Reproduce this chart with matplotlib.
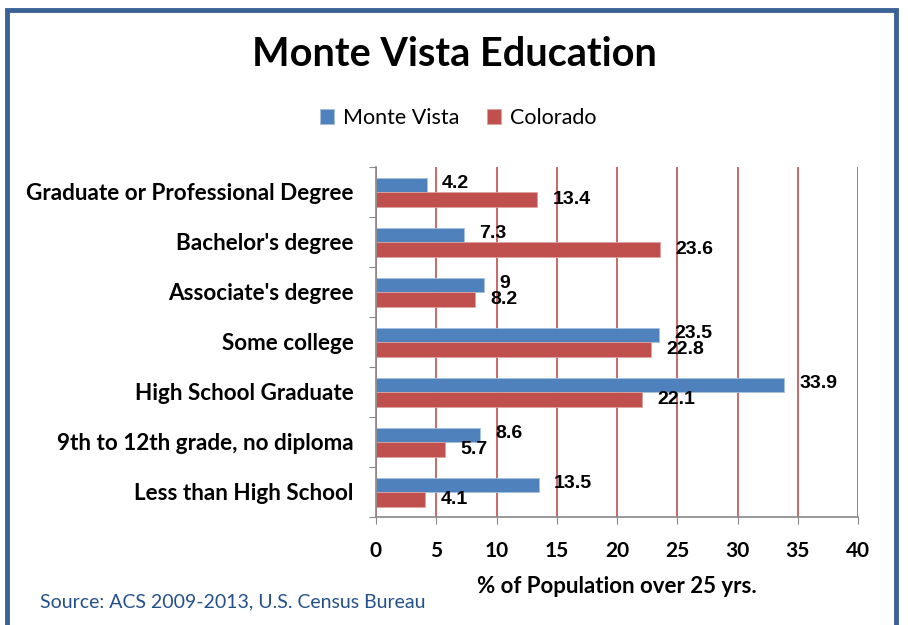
import matplotlib.pyplot as plt
import numpy as np
from matplotlib.patches import Rectangle

categories = [
    "Less than High School",
    "9th to 12th grade, no diploma",
    "High School Graduate",
    "Some college",
    "Associate's degree",
    "Bachelor's degree",
    "Graduate or Professional Degree",
]
monte_vista = [13.5, 8.6, 33.9, 23.5, 9, 7.3, 4.2]
colorado = [4.1, 5.7, 22.1, 22.8, 8.2, 23.6, 13.4]
x_ticks = [0, 5, 10, 15, 20, 25, 30, 35, 40]

BLUE = "#4F81BD"
RED = "#C0504D"
FRAME = "#3B6297"
CAT_FONT = "Lato"

fig = plt.figure(figsize=(9.08, 6.25), dpi=100)
ax = fig.add_axes([376 / 908, 1 - 517 / 625, 482 / 908, 350 / 625])

y = np.arange(len(categories))
h = 0.29
ax.barh(y + h / 2, monte_vista, height=h, color=BLUE, edgecolor="#A7C0DE", linewidth=0.6,
        label="Monte Vista", zorder=3)
ax.barh(y - h / 2, colorado, height=h, color=RED, edgecolor="#DDA3A1", linewidth=0.6,
        label="Colorado", zorder=3)

# value labels just past the bar ends
for yi, v in zip(y, monte_vista):
    ax.annotate(f"{v:g}", (v, yi + h / 2 + 0.02), xytext=(11, 0), textcoords="offset points",
                ha="left", va="center", fontsize=14, fontweight="bold",
                family="Liberation Sans", zorder=4)
for yi, v in zip(y, colorado):
    ax.annotate(f"{v:g}", (v, yi - h / 2), xytext=(11, 0), textcoords="offset points",
                ha="left", va="center", fontsize=14, fontweight="bold",
                family="Liberation Sans", zorder=4)

ax.set_xlim(0, 40)
ax.set_ylim(-0.5, len(categories) - 0.5)
ax.set_xticks(x_ticks)
ax.set_xticklabels([str(t) for t in x_ticks], fontsize=15, fontweight="bold", family=CAT_FONT)
ax.tick_params(axis="x", length=5, color="#888888", pad=12)

ax.set_yticks(np.arange(-0.5, len(categories), 1.0))
ax.set_yticklabels([])
ax.set_yticks(y, minor=True)
ax.set_yticklabels(categories, minor=True, fontsize=16.2, fontweight="bold", family=CAT_FONT)
ax.tick_params(axis="y", which="major", length=5, color="#888888")
ax.tick_params(axis="y", which="minor", length=0, pad=16)

ax.grid(axis="x", color=RED, linewidth=1.2, zorder=0)
for s in ["top", "right"]:
    ax.spines[s].set_visible(False)
for s in ["left", "bottom"]:
    ax.spines[s].set_color("#888888")
    ax.spines[s].set_linewidth(1.2)
    ax.spines[s].set_zorder(5)

ax.set_xlabel("% of Population over 25 yrs.", fontsize=16, fontweight="bold",
              family=CAT_FONT, labelpad=11)

fig.text(454 / 908, 1 - 55 / 625, "Monte Vista Education", ha="center", va="center",
         fontsize=28.5, fontweight="bold", family=CAT_FONT)

handles, labels = ax.get_legend_handles_labels()
fig.legend(handles, labels, loc="center", bbox_to_anchor=(458 / 908, 1 - 118 / 625),
           ncol=2, frameon=False, prop={"family": CAT_FONT, "size": 15.5},
           handlelength=0.65, handleheight=0.65, columnspacing=1.3, handletextpad=0.4)

fig.text(40 / 908, 1 - 602 / 625, "Source: ACS 2009-2013, U.S. Census Bureau",
         ha="left", va="center", fontsize=14, color="#24508A", family=CAT_FONT)

fig.patches.append(Rectangle((7 / 908, -0.1), 889 / 908, 1.1 - 10 / 625,
                             transform=fig.transFigure, fill=False,
                             edgecolor=FRAME, linewidth=3.5))

fig.savefig("out.png", dpi=100)
